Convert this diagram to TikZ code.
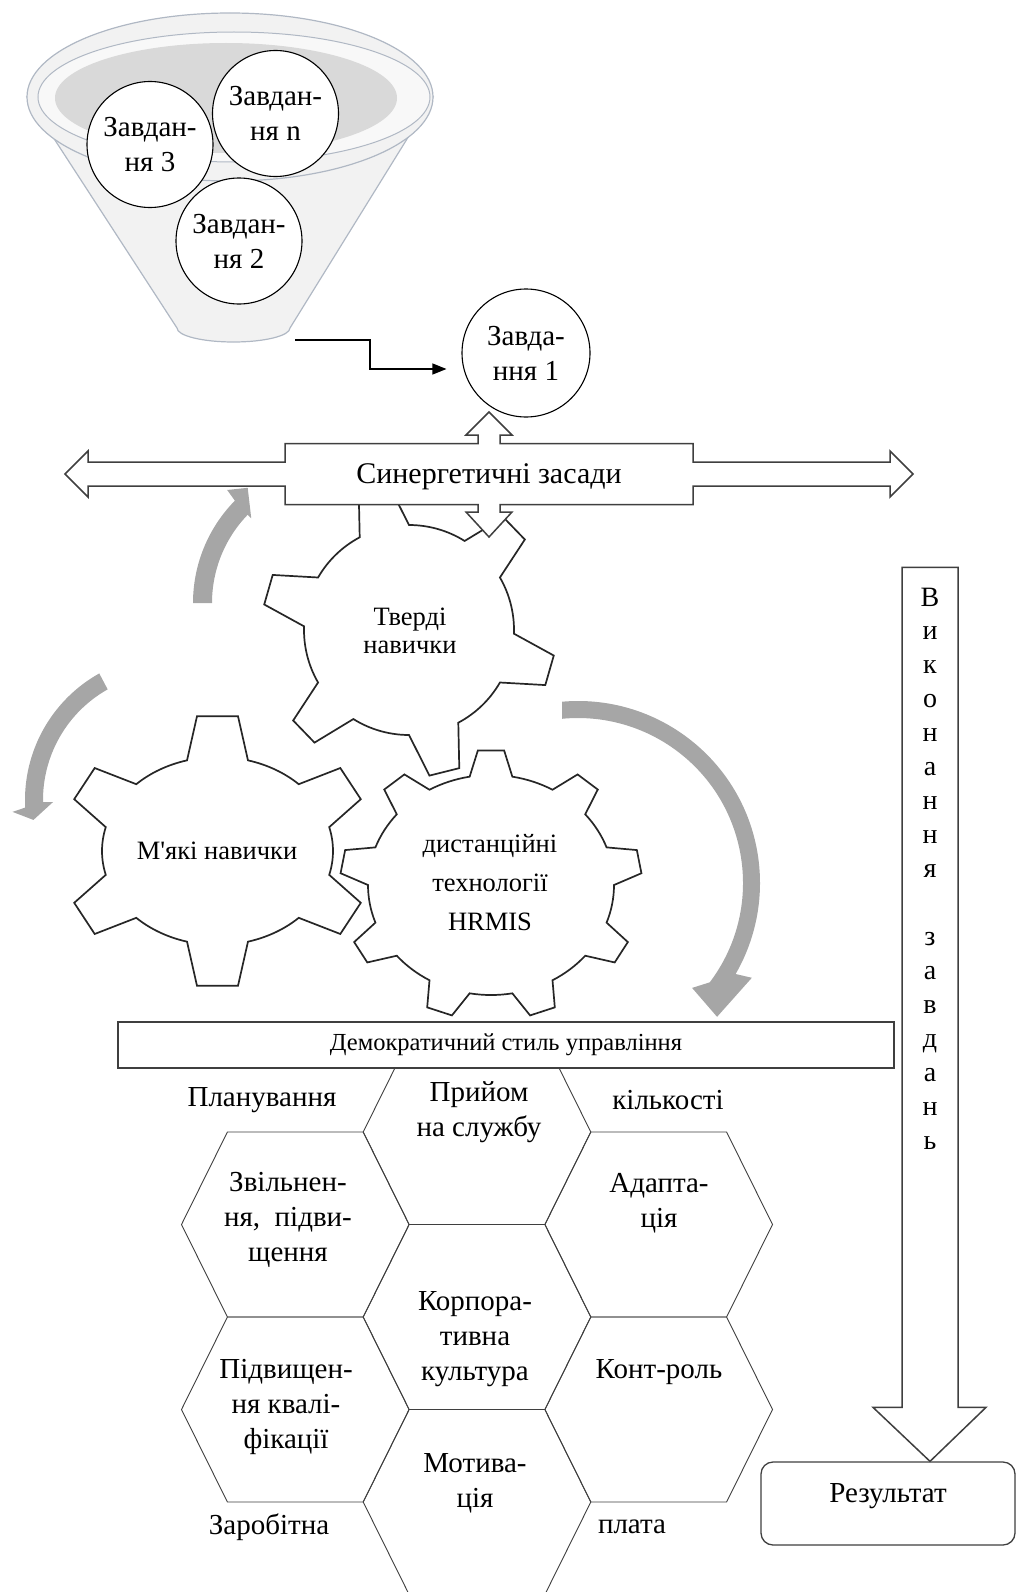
\documentclass[tikz,border=0pt]{standalone}
\usepackage{fontspec}
\setmainfont{Liberation Serif}[Ligatures=TeXOff]
\usetikzlibrary{arrows.meta,positioning,calc}
\definecolor{funline}{HTML}{B0B8C4}
\definecolor{funfill}{HTML}{F2F2F2}
\definecolor{funliq}{HTML}{D9D9D9}
\definecolor{turn}{HTML}{A6A6A6}
\definecolor{edge}{HTML}{3F3F3F}
\newcommand{\bigfs}{\fontsize{29}{35}\selectfont}
\newcommand{\gearfs}{\fontsize{26.5}{27.5}\selectfont}
\newcommand{\boxfs}{\fontsize{24.5}{28}\selectfont}

% gear outline: centre, teeth, first tooth, root radii, tip radii, root/tip half angles
\newcommand{\gearpath}[9]{%
  \begin{scope}[shift={(#1)}]
    \filldraw[gear] ({#4*cos(#3-#8)},{#5*sin(#3-#8)})
      \foreach \k [evaluate=\k as \a using {#3+(\k-1)*360/#2}] in {1,...,#2}{
        -- ({#6*cos(\a-#9)},{#7*sin(\a-#9)}) -- ({#6*cos(\a+#9)},{#7*sin(\a+#9)})
        -- ({#4*cos(\a+#8)},{#5*sin(\a+#8)})
        arc[start angle=\a+#8, end angle=\a+360/#2-#8, x radius=#4, y radius=#5]
      } -- cycle;
  \end{scope}}

\begin{document}
\begin{tikzpicture}[x=1pt, y=1pt, every node/.style={font=\bigfs, inner sep=0pt},
    task/.style={circle, draw=black, line width=1.1pt, fill=white, minimum size=126pt, align=center},
    gear/.style={draw=black!85, fill=white, line width=1.7pt, line join=miter},
    turnarrow/.style={fill=turn, draw=none},
    block/.style={draw=edge, fill=white, line width=1.5pt, line join=miter},
    hexline/.style={draw=edge, line width=0.9pt},
    link/.style={-{Triangle[length=14pt,width=11pt]}, line width=1.2pt},
    txt/.style={align=center},
    resbox/.style={draw=edge, fill=white, rounded corners=12pt, line width=1.3pt, minimum width=254pt, text height=40pt, text depth=43pt},
    hexcell/.pic={\draw[hexline] (-113.8,0) -- (-67.9,92.5) -- (67.9,92.5) -- (113.8,0) -- (67.9,-92.5) -- (-67.9,-92.5) -- cycle;}]
  \useasboundingbox (0,0) rectangle (1017,-1592);

  % funnel
  \filldraw[draw=funline, fill=funfill, line width=1.2pt] (27,-97) -- (177,-328)
    arc[start angle=180, end angle=360, x radius=56.5, y radius=14] -- (433,-97) -- cycle;
  \filldraw[draw=funline, fill=funfill, line width=1.2pt] (230,-97) ellipse[x radius=203, y radius=84];
  \filldraw[draw=funline, fill=white!50!funfill, line width=1pt] (234,-97) ellipse[x radius=196, y radius=65];
  \fill[funliq] (226,-98) ellipse[x radius=171, y radius=55];
  \node[task] (t3) at (150,-144.5) {Завдан-\\ня 3};
  \node[task] (tn) at (275.5,-113.5) {Завдан-\\ня n};
  \node[task] (t2) at (239,-241) {Завдан-\\ня 2};
  \fill[turn] (210,-348) -- (251,-348) -- (251,-370) -- (263,-370) -- (230.5,-390) -- (198,-370) -- (210,-370) -- cycle;

  \node[task, minimum size=128pt] (t1) at (526,-353) {Завда-\\ння 1};
  \coordinate (feed) at (295,-340);
  \coordinate (feedend) at ([shift={(-15,-16)}]t1.west);
  \draw[link] (feed) -- ++(75,0) |- (feedend);

  % rotation arrows
  \fill[turnarrow, shift={(339,-603)}] (180:146) arc[start angle=180, end angle=135.5, radius=146]
    -- (134.7:159) -- (128.4:147) -- (136:122) -- (136:127) arc[start angle=136, end angle=180, radius=127] -- cycle;
  \fill[turnarrow, shift={(170,-800)}] (119.2:145) arc[start angle=119.2, end angle=183, radius=145]
    -- (184.3:158) -- (188.3:138) -- (181:117) -- (181:127) arc[start angle=181, end angle=119.4, radius=127] -- cycle;
  \fill[turnarrow, shift={(578,-883)}] (95:182) arc[start angle=95, end angle=-30, radius=182]
    -- (-28.6:198) -- (-43.9:193) -- (-42.6:155) -- (-37:165) arc[start angle=-37, end angle=95.5, radius=165] -- cycle;

  % gears
  \gearpath{217.5,-851}{6}{90}{115.5}{94}{155}{136}{15.3}{7.6}
  \node (soft) at (217,-851) {\gearfs М'які навички};
  \gearpath{491,-885}{9}{90}{123}{110}{151}{135}{10}{5}
  \node[txt, font={\fontsize{26.5}{39}\selectfont}] (hrmis) at (490,-883) {дистанційні\\технології\\HRMIS};
  \gearpath{409,-630}{6}{44}{105}{105}{147}{147}{14}{6}
  \node[txt, font=\gearfs] (hard) at (410,-631) {Тверді\\навички};

  % synergy cross arrow
  \coordinate (synpos) at (489,-474);
  \filldraw[block, shift={(synpos)}] (-424,0) -- (-401,23) -- (-401,12) -- (-204,12) -- (-204,30.5) -- (-11,30.5)
    -- (-11,39) -- (-23,39) -- (0,62) -- (23,39) -- (11,39) -- (11,30.5) -- (204,30.5) -- (204,12) -- (401,12)
    -- (401,23) -- (424,0) -- (401,-23) -- (401,-12) -- (204,-12) -- (204,-30.5) -- (11,-30.5) -- (11,-38)
    -- (23,-38) -- (0,-63) -- (-23,-38) -- (-11,-38) -- (-11,-30.5) -- (-204,-30.5) -- (-204,-12) -- (-401,-12)
    -- (-401,-23) -- cycle;
  \node (syn) at ([yshift=-3pt]synpos) {\fontsize{30}{36}\selectfont Синергетичні засади};

  % honeycomb
  \foreach \hx/\hy in {295.3/-1224.5, 295.3/-1409.5, 477/-1132, 477/-1317, 477/-1502, 658.7/-1224.5, 658.7/-1409.5}
    \pic at (\hx,\hy) {hexcell};
  \node[txt] (hire) at (479,-1112) {Прийом\\на службу};
  \node[txt] (dismiss) at (288,-1220) {Звільнен-\\ня,\ \ підви-\\щення};
  \node[txt] (adapt) at (659,-1203) {Адапта-\\ція};
  \node[txt] (corp) at (475,-1339) {Корпора-\\тивна\\культура};
  \node[txt] (qualif) at (286,-1407) {Підвищен-\\ня квалі-\\фікації};
  \node[txt] (control) at (659,-1372) {Конт-роль};
  \node[txt] (motiv) at (475,-1483) {Мотива-\\ція};
  \node (plan) at (262,-1100) {Планування};
  \node (qty) at (668,-1100) {кількості};
  \node (wage) at (269,-1527) {Заробітна};
  \node (pay) at (632,-1527) {плата};

  \node[draw=edge, fill=white, line width=1.3pt, minimum width=776pt, minimum height=46pt, font=\boxfs] (demo) at (506,-1045) {Демократичний стиль управління};

  % execution arrow
  \node[resbox] (res) at (888,-1503.5) {Результат};
  \coordinate (exectip) at ([xshift=42pt]res.north);
  \filldraw[block] (exectip) -- ++(-57,54) -- ++(29,0) -- ++(0,840) -- ++(56,0) -- ++(0,-840) -- ++(28,0) -- cycle;
  \foreach \ch/\i in {В/0,и/1,к/2,о/3,н/4,а/5,н/6,н/7,я/8,з/10,а/11,в/12,д/13,а/14,н/15,ь/16}
    \node[anchor=base, font={\fontsize{28}{30}\selectfont}] (exec\i) at (930,{-606-33.94*\i}) {\ch};
\end{tikzpicture}
\end{document}
